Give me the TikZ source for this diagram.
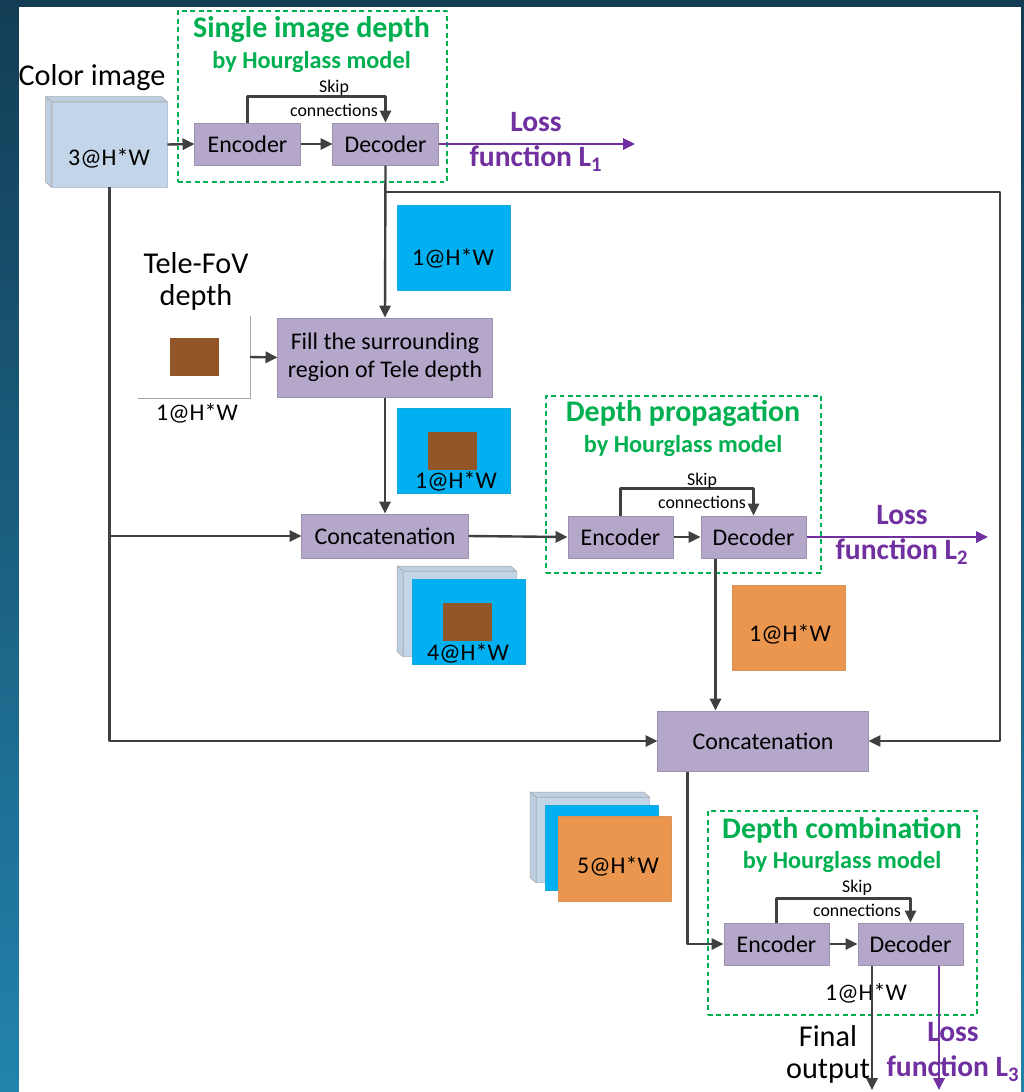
\documentclass[tikz,border=0pt]{standalone}
\usepackage{fontspec}
\setmainfont{Carlito}
\usetikzlibrary{arrows.meta}

\definecolor{bgtop}{HTML}{133D55}
\definecolor{bgbot}{HTML}{2283AD}
\definecolor{boxfill}{HTML}{B4A7CA}
\definecolor{boxline}{HTML}{9A92AC}
\definecolor{linegray}{HTML}{404040}
\definecolor{lossviolet}{HTML}{7030A0}
\definecolor{hgreen}{HTML}{00B050}
\definecolor{mapblue}{HTML}{00B0F0}
\definecolor{telebrown}{HTML}{935628}
\definecolor{outorange}{HTML}{EA964F}
\definecolor{rgbsteel}{HTML}{C3D6E9}

\tikzset{
  flow/.style={draw=linegray, line width=1.7pt},
  lossflow/.style={draw=lossviolet, line width=1.7pt},
  block/.style={draw=boxline, fill=boxfill, line width=.7pt, inner sep=0pt, font=\fontsize{17}{20}\selectfont},
  netbox/.style={block, minimum width=2.625cm, minimum height=1.05cm},
  groupbox/.style={draw=hgreen, line width=.9pt, dash pattern=on 3.5pt off 2.5pt, inner sep=0pt},
  grouptitle/.style={text=hgreen, font=\fontsize{21.3}{24}\selectfont\bfseries},
  groupsub/.style={text=hgreen, font=\fontsize{17.3}{20}\selectfont\bfseries},
  skiptxt/.style={font=\fontsize{12.7}{14}\selectfont, inner sep=0pt},
  bigtxt/.style={font=\fontsize{21.5}{22.8}\selectfont, align=center},
  losstxt/.style={text=lossviolet, font=\fontsize{21}{25}\selectfont\bfseries, align=center},
  maptxt/.style={font=\fontsize{17}{20}\selectfont, inner sep=0pt},
  mapsq/.style={minimum width=2.825cm, minimum height=2.125cm, inner sep=0pt, line width=.4pt},
  rgbmap/.style={mapsq, fill=rgbsteel, draw=rgbsteel!80!gray},
  depthmap/.style={mapsq, fill=mapblue, draw=mapblue!85!gray},
  outmap/.style={mapsq, fill=outorange, draw=outorange!85!gray},
  telemap/.style={fill=telebrown, minimum width=1.225cm, minimum height=.95cm, inner sep=0pt},
  slab/.style={fill=rgbsteel!92!gray, draw=gray!70, line width=.4pt},
}

\begin{document}
\begin{tikzpicture}[x=0.025cm, y=-0.025cm, >={Triangle[length=8.5pt,width=8pt]}, line join=round]
  \useasboundingbox (0,0) rectangle (1024,1092);
  \shade[top color=bgtop, bottom color=bgbot] (0,0) rectangle (1024,1092);
  \fill[white] (19,7) rectangle (1021,1092);

  % hourglass groups
  \node[groupbox, minimum width=6.725cm, minimum height=4.275cm] (grp1) at (312.5,96.5) {};
  \node[grouptitle] (ttl1) at (311.5,30) {Single image depth};
  \node[groupsub] (sub1) at (311.5,62) {by Hourglass model};
  \node[groupbox, minimum width=6.875cm, minimum height=4.425cm] (grp2) at (683.5,484.5) {};
  \node[grouptitle] (ttl2) at (683,414) {Depth propagation};
  \node[groupsub] (sub2) at (683,446) {by Hourglass model};
  \node[groupbox, minimum width=6.725cm, minimum height=5.1cm] (grp3) at (842.5,913) {};
  \node[grouptitle] (ttl3) at (842,830) {Depth combination};
  \node[groupsub] (sub3) at (842,862) {by Hourglass model};

  % feature maps
  \node[bigtxt] (lblimg) at (92,78) {Color image};
  \node[rgbmap, minimum width=2.875cm] (img) at (109.5,144.5) {};
  \node[rgbmap] (stkA) at (460,614) {};
  \node[rgbmap] (stkB) at (593,840) {};
  \foreach \b in {img,stkA,stkB} {
    \filldraw[slab] (\b.north west) -- ++(-6,-5) -- ([shift={(-.15cm,.125cm)}]\b.north east) -- (\b.north east) -- cycle;
    \filldraw[slab] (\b.north west) -- ++(-6,-5) -- ([shift={(-.15cm,.125cm)}]\b.south west) -- (\b.south west) -- cycle;
  }
  \node[maptxt] (imgtxt) at (109,158) {3@H*W};

  \node[depthmap] (mono) at (453.5,247.5) {};
  \node[maptxt] (monotxt) at (453,258) {1@H*W};

  \node[bigtxt] (telelbl) at (196,281) {Tele-FoV\\depth};
  \draw[gray!70, line width=.5pt] (250,316) -- (250,398) -- (138,398);
  \node[telemap] (tele) at (194.5,357) {};
  \node[maptxt] (teletxt) at (197,413) {1@H*W};

  \node[depthmap] (filled) at (453.5,450.5) {};
  \node[telemap] (filledin) at (452.5,450.5) {};
  \node[maptxt] (filledtxt) at (456,481) {1@H*W};

  \node[depthmap] (stkAb) at (469,622) {};
  \node[telemap] (stkAin) at (467.5,622) {};
  \node[maptxt] (stkAtxt) at (468,653) {4@H*W};

  \node[outmap] (prop) at (788.5,627.5) {};
  \node[maptxt] (proptxt) at (790,634) {1@H*W};

  \node[depthmap] (stkBb) at (602,848) {};
  \node[outmap] (stkBo) at (615,859) {};
  \node[maptxt] (stkBtxt) at (618,866) {5@H*W};

  % blocks
  \node[netbox] (enc1) at (247.5,144) {Encoder};
  \node[netbox] (dec1) at (385.5,144) {Decoder};
  \node[block, minimum width=5.35cm, minimum height=1.975cm, align=center] (fill) at (385,357.5) {Fill the surrounding\\region of Tele depth};
  \node[block, minimum width=4.15cm, minimum height=1.1cm] (cat1) at (385,536) {Concatenation};
  \node[netbox] (enc2) at (620.5,537) {Encoder};
  \node[netbox] (dec2) at (753.5,537) {Decoder};
  \node[block, minimum width=5.25cm, minimum height=1.5cm] (cat2) at (763,741) {Concatenation};
  \node[netbox] (enc3) at (776.5,944) {Encoder};
  \node[netbox] (dec3) at (910.5,944) {Decoder};

  % skip connections
  \draw[->, flow] (enc1.north) -- ++(0,-26) -| (dec1.north);
  \node[skiptxt] (skp1) at (334,88) {Skip};
  \node[skiptxt] (con1) at (334,110) {connections};
  \draw[->, flow] (enc2.north) -- ++(0,-27) -| (dec2.north);
  \node[skiptxt] (skp2) at (702,481) {Skip};
  \node[skiptxt] (con2) at (702,502) {connections};
  \draw[->, flow] (enc3.north) -- ++(0,-24) -| (dec3.north);
  \node[skiptxt] (skp3) at (857,888) {Skip};
  \node[skiptxt] (con3) at (857,910) {connections};

  % data flow
  \draw[->, flow] (img.east) -- (enc1.west);
  \draw[->, flow] (enc1) -- (dec1);
  \draw[->, flow] (dec1.south) -- (fill.north);
  \coordinate (loopc) at (1000,192);
  \draw[->, flow] (dec1.south |- loopc) -- (loopc) |- (cat2.east);
  \coordinate (teleout) at (250,357);
  \draw[->, flow] (teleout) -- (fill.west);
  \draw[->, flow] (fill.south) -- (cat1.north);
  \draw[->, flow] (img.south) |- (cat2.west);
  \draw[->, flow] (img.south |- cat1.west) -- (cat1.west);
  \draw[->, flow] (cat1.east) -- (enc2.west);
  \draw[->, flow] (enc2) -- (dec2);
  \coordinate (d2out) at ([xshift=.375cm]dec2.south west);
  \draw[->, flow] (d2out) -- (d2out |- cat2.north);
  \draw[->, flow] ([xshift=.75cm]cat2.south west) |- (enc3.west);
  \draw[->, flow] (enc3) -- (dec3);

  % losses and output
  \coordinate (l1end) at (635,144);
  \draw[->, lossflow] (dec1.east) -- (l1end);
  \node[losstxt] (loss1) at (536,142) {Loss\\function L\textsubscript{1}};
  \coordinate (l2end) at (988,537);
  \draw[->, lossflow] (dec2.east) -- (l2end);
  \node[losstxt] (loss2) at (902,535) {Loss\\function L\textsubscript{2}};
  \node[maptxt] (outtxt) at (866,993) {1@H*W};
  \node[bigtxt, text depth=0pt] (fintxt) at (828,1052) {Final\\output};
  \node[losstxt] (loss3) at (953,1052) {Loss\\function L\textsubscript{3}};
  \coordinate (finend) at (872,1090);
  \coordinate (l3end) at (939,1090);
  \draw[->, flow] (dec3.south -| finend) -- (finend);
  \draw[->, lossflow] (dec3.south -| l3end) -- (l3end);
\end{tikzpicture}
\end{document}
